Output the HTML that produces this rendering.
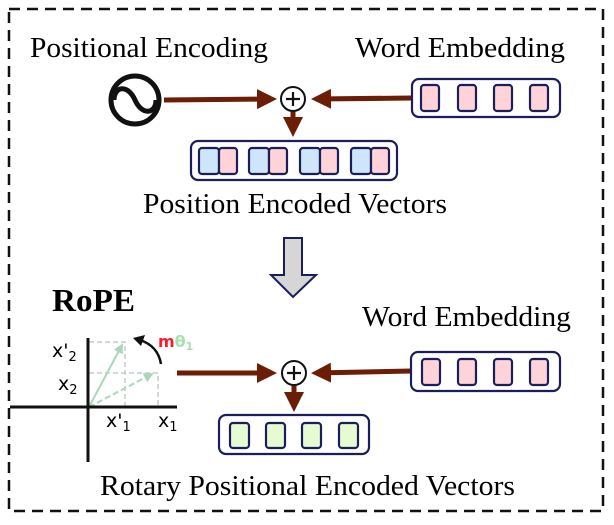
<!DOCTYPE html>
<html><head><style>body{margin:0;background:#fff}</style></head><body>
<svg width="614" height="520" xmlns="http://www.w3.org/2000/svg" font-family="Liberation Serif, serif">
<defs>
<marker id="ar" markerWidth="4" markerHeight="4" refX="3" refY="2" orient="auto" markerUnits="strokeWidth"><path d="M0,0 L4,2 L0,4 z" fill="#6b1e05"/></marker>
<marker id="ag" markerWidth="5" markerHeight="5" refX="4" refY="2.5" orient="auto" markerUnits="strokeWidth"><path d="M0,0 L5,2.5 L0,5 z" fill="#a8d8b8"/></marker>
</defs>
<rect x="9" y="9" width="594" height="502" fill="none" stroke="#111" stroke-width="2.5" stroke-dasharray="11,7"/>
<text x="30" y="57" font-size="29" textLength="238" lengthAdjust="spacingAndGlyphs">Positional Encoding</text>
<text x="355" y="57" font-size="29" textLength="210" lengthAdjust="spacingAndGlyphs">Word Embedding</text>
<circle cx="135" cy="100" r="24" fill="none" stroke="#111" stroke-width="5"/>
<path d="M114,100 C114,86 128,84 135,100 C142,116 156,114 156,100" fill="none" stroke="#111" stroke-width="5"/>
<g stroke="#6b1e05" stroke-width="5" fill="none">
<line x1="164" y1="100" x2="272" y2="99" marker-end="url(#ar)"/>
<line x1="412" y1="98" x2="316" y2="99" marker-end="url(#ar)"/>
<line x1="293" y1="112" x2="293" y2="132" marker-end="url(#ar)"/>
<line x1="177" y1="373" x2="272" y2="373" marker-end="url(#ar)"/>
<line x1="411" y1="371" x2="316" y2="373" marker-end="url(#ar)"/>
<line x1="294" y1="386" x2="294" y2="407" marker-end="url(#ar)"/>
</g>
<circle cx="293" cy="99" r="12" fill="#fff" stroke="#111" stroke-width="2"/>
<path d="M286,99 H300 M293,92 V106" stroke="#111" stroke-width="2.2"/>
<circle cx="294" cy="373" r="12" fill="#fff" stroke="#111" stroke-width="2"/>
<path d="M287,373 H301 M294,366 V380" stroke="#111" stroke-width="2.2"/>
<g stroke="#1a1f5a" stroke-width="2.2">
<rect x="412" y="79" width="148" height="38" rx="7" fill="#fff"/>
<rect x="421" y="85" width="18" height="26" rx="3" fill="#ffd3d8"/>
<rect x="458" y="85" width="18" height="26" rx="3" fill="#ffd3d8"/>
<rect x="494" y="85" width="18" height="26" rx="3" fill="#ffd3d8"/>
<rect x="530" y="85" width="18" height="26" rx="3" fill="#ffd3d8"/>
<rect x="191" y="141" width="206" height="39" rx="7" fill="#fff"/>
<rect x="199" y="148" width="20" height="26" rx="3" fill="#cfe5fb"/><rect x="219" y="148" width="18" height="26" rx="3" fill="#ffd3d8"/>
<rect x="249" y="148" width="20" height="26" rx="3" fill="#cfe5fb"/><rect x="269" y="148" width="18" height="26" rx="3" fill="#ffd3d8"/>
<rect x="300" y="148" width="20" height="26" rx="3" fill="#cfe5fb"/><rect x="320" y="148" width="18" height="26" rx="3" fill="#ffd3d8"/>
<rect x="351" y="148" width="20" height="26" rx="3" fill="#cfe5fb"/><rect x="371" y="148" width="18" height="26" rx="3" fill="#ffd3d8"/>
<rect x="411" y="352" width="149" height="39" rx="7" fill="#fff"/>
<rect x="422" y="359" width="18" height="26" rx="3" fill="#ffd3d8"/>
<rect x="458" y="359" width="18" height="26" rx="3" fill="#ffd3d8"/>
<rect x="494" y="359" width="18" height="26" rx="3" fill="#ffd3d8"/>
<rect x="530" y="359" width="18" height="26" rx="3" fill="#ffd3d8"/>
<rect x="219" y="415" width="150" height="39" rx="7" fill="#fff"/>
<rect x="230" y="423" width="19" height="25" rx="3" fill="#e6fbd2"/>
<rect x="266" y="423" width="19" height="25" rx="3" fill="#e6fbd2"/>
<rect x="302" y="423" width="19" height="25" rx="3" fill="#e6fbd2"/>
<rect x="339" y="423" width="19" height="25" rx="3" fill="#e6fbd2"/>
</g>
<text x="143" y="213" font-size="29" textLength="304" lengthAdjust="spacingAndGlyphs">Position Encoded Vectors</text>
<path d="M284,238 H302 V275 H316 L293,297 L271,275 H284 Z" fill="#d6d6d6" stroke="#1a1f5a" stroke-width="2"/>
<text x="52" y="311" font-size="32" font-weight="bold" textLength="83" lengthAdjust="spacingAndGlyphs">RoPE</text>
<text x="362" y="326" font-size="29" textLength="209" lengthAdjust="spacingAndGlyphs">Word Embedding</text>
<g stroke="#c0cccc" stroke-width="1.5" stroke-dasharray="5,3" fill="none">
<path d="M89,342 H125 V407"/><path d="M89,373 H158 V407"/>
</g>
<line x1="89" y1="407" x2="152" y2="374" stroke="#a8d8b8" stroke-width="2" stroke-dasharray="6,3" marker-end="url(#ag)"/>
<line x1="89" y1="407" x2="122" y2="345" stroke="#a8d8b8" stroke-width="2" marker-end="url(#ag)"/>
<line x1="10" y1="407" x2="177" y2="407" stroke="#111" stroke-width="3"/>
<line x1="88" y1="338" x2="88" y2="462" stroke="#111" stroke-width="3"/>
<path d="M161,364 Q158,346 140,340" fill="none" stroke="#111" stroke-width="2.5"/>
<path d="M133,338 L145,335 L141,346 z" fill="#111"/>
<g font-family="DejaVu Sans, sans-serif" font-size="19">
<text x="52" y="357">x'<tspan font-size="13" dy="4">2</tspan></text>
<text x="58" y="390">x<tspan font-size="13" dy="4">2</tspan></text>
<text x="106" y="427">x'<tspan font-size="13" dy="4">1</tspan></text>
<text x="158" y="427">x<tspan font-size="13" dy="4">1</tspan></text>
<text x="158" y="347" font-size="16" font-weight="bold" fill="#ff1a2a">m<tspan fill="#a8e0b0">θ</tspan><tspan fill="#a8e0b0" font-size="11" dy="3">1</tspan></text>
</g>
<text x="100" y="495" font-size="29" textLength="415" lengthAdjust="spacingAndGlyphs">Rotary Positional Encoded Vectors</text>
</svg>
</body></html>
